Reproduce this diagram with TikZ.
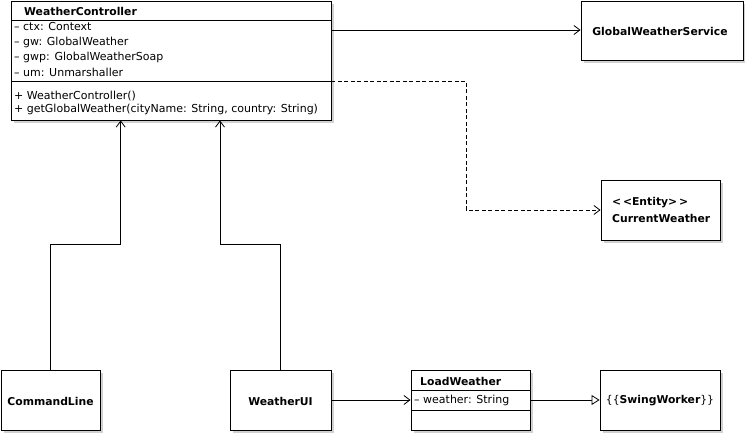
\documentclass[tikz,border=0pt]{standalone}
\usepackage{fontspec}
\setmainfont{DejaVu Sans}
\usetikzlibrary{arrows.meta,shadows,calc}
\tikzset{
  cls/.style={draw=black, line width=0.9pt, fill=white, inner sep=0pt,
    drop shadow={shadow xshift=3pt, shadow yshift=-3pt, opacity=1, fill=black!18}},
  ttl/.style={font=\fontsize{10.8}{12}\selectfont\bfseries, inner sep=0pt},
  txt/.style={font=\fontsize{11}{12}\selectfont, inner sep=0pt, anchor=west},
  sep/.style={line width=0.9pt},
  assoc/.style={line width=0.8pt, -{Straight Barb[length=6pt,width=9pt]}},
  dep/.style={line width=0.8pt, dash pattern=on 4pt off 2.5pt, -{Straight Barb[length=6pt,width=9pt]}},
  gen/.style={line width=0.8pt, -{Triangle[open, length=8pt, width=10pt, fill=white]}}
}
\begin{document}
\begin{tikzpicture}[x=1pt,y=-1pt]
\useasboundingbox[fill=white] (0,0) rectangle (745,435);
% WeatherController
\node[cls, minimum width=320pt, minimum height=119pt] (wc) at (171,60.5) {};
\draw[sep] (11,20) -- (331,20);
\draw[sep] (11,81) -- (331,81);
\node[ttl, anchor=west] (wct) at (24,11) {WeatherController};
\node[txt] (a1) at (14,27) {– ctx: Context};
\node[txt] (a2) at (14,42) {– gw: GlobalWeather};
\node[txt] (a3) at (14,57) {– gwp: GlobalWeatherSoap};
\node[txt] (a4) at (14,72) {– um: Unmarshaller};
\node[txt] (m1) at (14,96) {+ WeatherController()};
\node[txt] (m2) at (14,109) {+ getGlobalWeather(cityName: String, country: String)};
% GlobalWeatherService
\node[cls, minimum width=162pt, minimum height=59pt] (gws) at (662,30.5) {};
\node[ttl] (gwst) at (660,31) {GlobalWeatherService};
% CurrentWeather
\node[cls, minimum width=119pt, minimum height=60pt] (cw) at (660.5,210) {};
\node[ttl, anchor=west] (cws) at (612,203) {{<}\,{<}Entity{>}\,{>}};
\node[ttl, anchor=west] (cwt) at (612,218) {CurrentWeather};
% CommandLine
\node[cls, minimum width=99pt, minimum height=60pt] (cl) at (50.5,400) {};
\node[ttl] (clt) at (50.5,401) {CommandLine};
% WeatherUI
\node[cls, minimum width=101pt, minimum height=60pt] (wui) at (280.5,400) {};
\node[ttl] (wuit) at (280.5,401) {WeatherUI};
% LoadWeather
\node[cls, minimum width=119pt, minimum height=60pt] (lw) at (470.5,400) {};
\draw[sep] (411,390.5) -- (530,390.5);
\draw[sep] (411,410.5) -- (530,410.5);
\node[ttl, anchor=west] (lwt) at (420,381) {LoadWeather};
\node[txt] (lwa) at (414,400) {– weather: String};
% SwingWorker
\node[cls, minimum width=120pt, minimum height=60pt] (sw) at (660,400) {};
\node[ttl] (swt) at (660,401) {{\mdseries\{\{}SwingWorker{\mdseries\}\}}};
% connectors
\coordinate (p1) at ([yshift=30.5pt]wc.east);
\draw[assoc] (p1) -- (p1 -| gws.west);
\coordinate (p2) at ([yshift=-20.5pt]wc.east);
\draw[dep] (p2) -| ($(p2)!0.5!(cw.west)$) |- (cw.west);
\draw[assoc] (cl.north) -- ++(0,-125) -| ([xshift=-50.3pt]wc.south);
\draw[assoc] (wui.north) -- ++(0,-125) -| ([xshift=49pt]wc.south);
\draw[assoc] (wui.east) -- (lw.west);
\draw[gen] (lw.east) -- (sw.west);
\end{tikzpicture}
\end{document}
